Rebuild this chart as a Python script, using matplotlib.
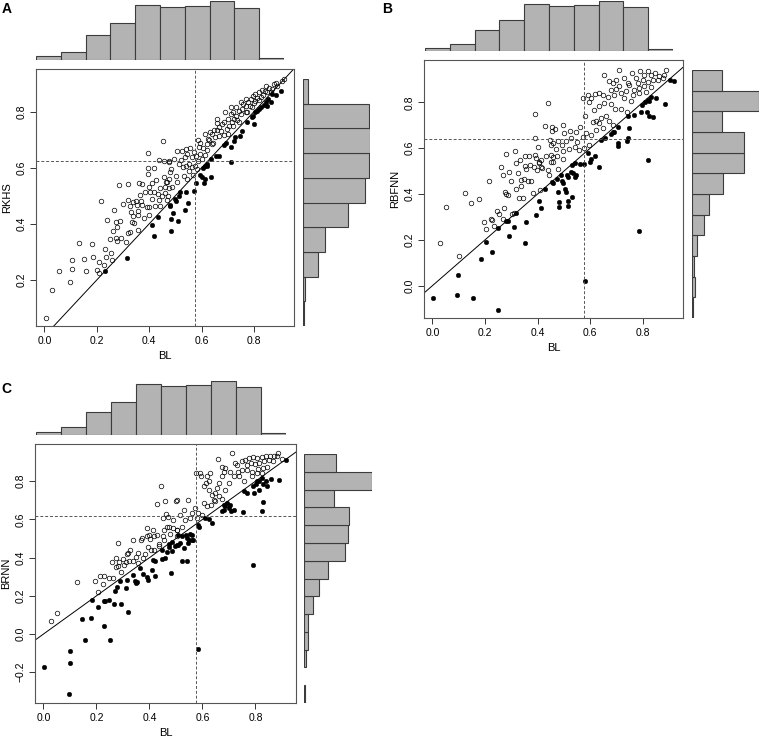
import numpy as np
import matplotlib
matplotlib.use("Agg")
import matplotlib.pyplot as plt

plt.rcParams['font.family'] = ['Liberation Sans', 'DejaVu Sans']

# --- data ---
# histogram of BL (shared by all panels), bins 0.0..1.0 step 0.1
bl_counts = [3, 7, 21, 31, 47, 45, 46, 50, 44, 2]
# histograms of the model predictions (bottom bin first)
rkhs_counts = [1, 2, 13, 19, 38, 53, 56, 57, 56, 4]            # bins 0.0..1.0
rbfnn_counts = [1, 3, 2, 5, 12, 17, 31, 52, 52, 30, 67, 30]    # bins -0.2..1.0
brnn_counts = [1, 0, 2, 4, 4, 8, 14, 22, 38, 41, 42, 28, 63, 30]  # bins -0.4..1.0

bl_mean = 0.575
rkhs_mean = 0.624
rbfnn_mean = 0.641
brnn_mean = 0.616

# RKHS vs BL: open = above diagonal, filled = below
rkhs_open = [
    (0.006, 0.065), (0.03, 0.165), (0.056, 0.231), (0.099, 0.194), (0.104, 0.239), (0.106, 0.27),
    (0.131, 0.332), (0.151, 0.274), (0.159, 0.232), (0.18, 0.327), (0.187, 0.281), (0.2, 0.235),
    (0.207, 0.265), (0.208, 0.224), (0.218, 0.482), (0.226, 0.253), (0.231, 0.31), (0.234, 0.283),
    (0.238, 0.413), (0.252, 0.346), (0.253, 0.297), (0.257, 0.27), (0.263, 0.376), (0.266, 0.45),
    (0.273, 0.406), (0.273, 0.349), (0.278, 0.389), (0.283, 0.539), (0.287, 0.41), (0.277, 0.34),
    (0.293, 0.349), (0.302, 0.471), (0.31, 0.334), (0.319, 0.543), (0.32, 0.366), (0.32, 0.486),
    (0.325, 0.464), (0.326, 0.372), (0.33, 0.442), (0.335, 0.406), (0.339, 0.428), (0.342, 0.404),
    (0.337, 0.479), (0.348, 0.482), (0.352, 0.466), (0.357, 0.433), (0.357, 0.446), (0.358, 0.379),
    (0.361, 0.545), (0.366, 0.504), (0.367, 0.482), (0.373, 0.542), (0.373, 0.466), (0.379, 0.422),
    (0.386, 0.515), (0.391, 0.46), (0.395, 0.579), (0.395, 0.652), (0.396, 0.598), (0.398, 0.53),
    (0.399, 0.459), (0.399, 0.431), (0.405, 0.513), (0.41, 0.547), (0.411, 0.489), (0.419, 0.6),
    (0.419, 0.515), (0.423, 0.465), (0.426, 0.558), (0.433, 0.508), (0.437, 0.485), (0.438, 0.629),
    (0.44, 0.465), (0.443, 0.528), (0.45, 0.5), (0.452, 0.694), (0.456, 0.625), (0.457, 0.568),
    (0.46, 0.533), (0.461, 0.51), (0.469, 0.486), (0.466, 0.548), (0.471, 0.5), (0.475, 0.622),
    (0.478, 0.584), (0.476, 0.528),
    (0.659, 0.774), (0.588, 0.699), (0.593, 0.688), (0.605, 0.67), (0.619, 0.685), (0.625, 0.703),
    (0.634, 0.727), (0.641, 0.72), (0.648, 0.735), (0.658, 0.735), (0.667, 0.744), (0.68, 0.756),
    (0.687, 0.762), (0.7, 0.774), (0.712, 0.792), (0.72, 0.798), (0.724, 0.774), (0.73, 0.786),
    (0.743, 0.804), (0.753, 0.81), (0.76, 0.827), (0.768, 0.819), (0.779, 0.834), (0.787, 0.845),
    (0.796, 0.855), (0.806, 0.863), (0.819, 0.869), (0.829, 0.878), (0.842, 0.875), (0.857, 0.883),
    (0.876, 0.899), (0.886, 0.902), (0.906, 0.91), (0.914, 0.917), (0.696, 0.738), (0.686, 0.717),
    (0.667, 0.714), (0.651, 0.709), (0.639, 0.685), (0.622, 0.663), (0.594, 0.649), (0.578, 0.641),
    (0.575, 0.607), (0.581, 0.596), (0.569, 0.575), (0.552, 0.59), (0.54, 0.667),
    (0.508, 0.661), (0.535, 0.637), (0.546, 0.649), (0.521, 0.629), (0.514, 0.614), (0.53, 0.602),
    (0.54, 0.607), (0.552, 0.614), (0.563, 0.602), (0.495, 0.631), (0.476, 0.625), (0.483, 0.596),
    (0.502, 0.572), (0.533, 0.572), (0.546, 0.56), (0.476, 0.56), (0.508, 0.548), (0.489, 0.53),
    (0.47, 0.548), (0.743, 0.762), (0.775, 0.798), (0.794, 0.816), (0.845, 0.893), (0.864, 0.87),
    (0.768, 0.845), (0.749, 0.834), (0.73, 0.816), (0.711, 0.816), (0.705, 0.75), (0.718, 0.762),
    (0.613, 0.72), (0.59, 0.673), (0.826, 0.851), (0.806, 0.839),
    (0.527, 0.66), (0.555, 0.672), (0.562, 0.64), (0.57, 0.655), (0.585, 0.625), (0.6, 0.63),
    (0.612, 0.645), (0.63, 0.7), (0.645, 0.69), (0.66, 0.76), (0.675, 0.73), (0.69, 0.8),
    (0.7, 0.72), (0.72, 0.75), (0.735, 0.77), (0.75, 0.79), (0.77, 0.8), (0.785, 0.82),
    (0.8, 0.83), (0.81, 0.85), (0.82, 0.84), (0.835, 0.86), (0.85, 0.87), (0.87, 0.88), (0.89, 0.89),
]
rkhs_fill = [
    (0.231, 0.231), (0.315, 0.28), (0.41, 0.397), (0.419, 0.358), (0.433, 0.426), (0.479, 0.467),
    (0.483, 0.416), (0.483, 0.375), (0.51, 0.409), (0.491, 0.439), (0.535, 0.448), (0.547, 0.475),
    (0.502, 0.483), (0.518, 0.515), (0.579, 0.546), (0.61, 0.545), (0.612, 0.56), (0.638, 0.566),
    (0.594, 0.574), (0.607, 0.599), (0.613, 0.607), (0.621, 0.607), (0.62, 0.615), (0.638, 0.631),
    (0.657, 0.641), (0.667, 0.643), (0.712, 0.621), (0.685, 0.68), (0.711, 0.673), (0.695, 0.688),
    (0.724, 0.697), (0.728, 0.709), (0.746, 0.714), (0.753, 0.73), (0.773, 0.764), (0.799, 0.756),
    (0.791, 0.78), (0.796, 0.786), (0.806, 0.798), (0.813, 0.804), (0.827, 0.816), (0.845, 0.834),
    (0.866, 0.834), (0.853, 0.845), (0.87, 0.862), (0.883, 0.86), (0.903, 0.874), (0.838, 0.824),
    (0.851, 0.821), (0.819, 0.81), (0.497, 0.49), (0.514, 0.5), (0.48, 0.465), (0.541, 0.515),
    (0.571, 0.516), (0.603, 0.568),
]

# RBFNN vs BL
rbfnn_open = [
    (0.027, 0.188), (0.052, 0.345), (0.1, 0.128), (0.125, 0.404), (0.147, 0.361), (0.179, 0.378),
    (0.198, 0.276), (0.202, 0.249), (0.214, 0.459), (0.221, 0.293), (0.225, 0.286), (0.233, 0.262),
    (0.246, 0.328), (0.255, 0.313), (0.26, 0.52), (0.267, 0.289), (0.269, 0.485), (0.274, 0.338),
    (0.275, 0.411), (0.279, 0.576), (0.28, 0.4), (0.286, 0.397), (0.292, 0.498), (0.297, 0.458),
    (0.303, 0.312), (0.312, 0.319), (0.314, 0.586), (0.316, 0.535), (0.319, 0.424), (0.324, 0.491),
    (0.328, 0.382), (0.332, 0.549), (0.336, 0.433), (0.337, 0.462), (0.345, 0.383), (0.349, 0.465),
    (0.354, 0.564), (0.354, 0.523), (0.357, 0.511), (0.365, 0.459), (0.368, 0.564), (0.373, 0.528),
    (0.376, 0.456), (0.381, 0.404), (0.388, 0.518), (0.39, 0.571), (0.392, 0.646), (0.392, 0.748),
    (0.393, 0.558), (0.398, 0.504), (0.403, 0.605), (0.406, 0.535), (0.41, 0.417), (0.412, 0.547),
    (0.413, 0.52), (0.418, 0.513), (0.43, 0.697), (0.433, 0.564), (0.44, 0.799), (0.449, 0.637),
    (0.451, 0.615), (0.455, 0.691), (0.441, 0.506), (0.451, 0.542), (0.457, 0.561), (0.445, 0.484),
    (0.404, 0.539),
    (0.654, 0.921), (0.708, 0.943), (0.67, 0.892), (0.686, 0.885), (0.679, 0.856), (0.698, 0.859),
    (0.711, 0.87), (0.717, 0.841), (0.692, 0.834), (0.667, 0.824), (0.648, 0.834), (0.632, 0.841),
    (0.62, 0.838), (0.603, 0.819), (0.59, 0.834), (0.574, 0.819), (0.597, 0.8), (0.635, 0.786),
    (0.582, 0.742), (0.615, 0.765), (0.654, 0.797), (0.679, 0.794), (0.695, 0.771), (0.717, 0.771),
    (0.739, 0.756), (0.66, 0.742), (0.641, 0.732), (0.61, 0.716), (0.622, 0.717), (0.635, 0.71),
    (0.67, 0.717), (0.686, 0.703), (0.648, 0.688), (0.622, 0.681), (0.584, 0.666), (0.603, 0.659),
    (0.571, 0.651), (0.562, 0.692), (0.546, 0.669), (0.524, 0.673), (0.502, 0.666), (0.496, 0.703),
    (0.468, 0.684), (0.455, 0.673), (0.527, 0.644), (0.508, 0.63), (0.493, 0.615), (0.477, 0.63),
    (0.457, 0.623), (0.549, 0.625), (0.544, 0.605), (0.521, 0.596), (0.496, 0.59), (0.47, 0.596),
    (0.451, 0.571), (0.473, 0.564), (0.496, 0.553), (0.46, 0.538), (0.477, 0.509), (0.559, 0.593),
    (0.578, 0.601), (0.597, 0.615), (0.759, 0.929), (0.775, 0.907), (0.79, 0.936), (0.806, 0.921),
    (0.819, 0.936), (0.832, 0.921), (0.848, 0.929), (0.863, 0.917), (0.876, 0.907), (0.889, 0.94),
    (0.781, 0.885), (0.8, 0.896), (0.819, 0.887), (0.838, 0.899), (0.857, 0.896), (0.749, 0.877),
    (0.768, 0.856), (0.787, 0.863), (0.806, 0.87), (0.832, 0.867), (0.736, 0.848), (0.762, 0.834),
    (0.784, 0.841), (0.813, 0.844), (0.73, 0.907), (0.743, 0.885), (0.73, 0.819), (0.755, 0.804),
    (0.882, 0.921), (0.698, 0.899),
]
rbfnn_fill = [
    (0.003, -0.054), (0.094, -0.041), (0.153, -0.052), (0.251, -0.105), (0.099, 0.048), (0.183, 0.115),
    (0.202, 0.191), (0.227, 0.149), (0.25, 0.251), (0.281, 0.282), (0.289, 0.282), (0.293, 0.217),
    (0.312, 0.258), (0.319, 0.318), (0.355, 0.276), (0.354, 0.185), (0.393, 0.308), (0.407, 0.37),
    (0.413, 0.338), (0.428, 0.421), (0.454, 0.452), (0.46, 0.448), (0.478, 0.411), (0.48, 0.367),
    (0.48, 0.345), (0.496, 0.448), (0.503, 0.421), (0.53, 0.386), (0.489, 0.482), (0.511, 0.484),
    (0.516, 0.474), (0.544, 0.474), (0.531, 0.526), (0.543, 0.535), (0.562, 0.531), (0.575, 0.532),
    (0.592, 0.579), (0.6, 0.542), (0.605, 0.555), (0.619, 0.564), (0.632, 0.519), (0.64, 0.637),
    (0.655, 0.643), (0.679, 0.66), (0.686, 0.669), (0.692, 0.672), (0.706, 0.691), (0.705, 0.623),
    (0.707, 0.611), (0.74, 0.631), (0.745, 0.644), (0.746, 0.688), (0.745, 0.739), (0.765, 0.746),
    (0.797, 0.79), (0.794, 0.756), (0.815, 0.756), (0.825, 0.742), (0.838, 0.736), (0.81, 0.8),
    (0.82, 0.81), (0.822, 0.804), (0.832, 0.822), (0.851, 0.819), (0.885, 0.793), (0.905, 0.897),
    (0.92, 0.894), (0.821, 0.549), (0.787, 0.239), (0.582, 0.022), (0.475, 0.467), (0.494, 0.455),
    (0.508, 0.407), (0.515, 0.37), (0.516, 0.348), (0.534, 0.491), (0.546, 0.481), (0.526, 0.498),
]

# BRNN vs BL
brnn_open = [
    (0.028, 0.07), (0.052, 0.11), (0.128, 0.27), (0.195, 0.277), (0.204, 0.22), (0.214, 0.305),
    (0.223, 0.263), (0.23, 0.305), (0.247, 0.293), (0.26, 0.375), (0.262, 0.293), (0.272, 0.398),
    (0.275, 0.351), (0.28, 0.358), (0.285, 0.375), (0.291, 0.325), (0.281, 0.476), (0.3, 0.394),
    (0.304, 0.363), (0.31, 0.375), (0.315, 0.42), (0.32, 0.424), (0.323, 0.38), (0.325, 0.441),
    (0.338, 0.494), (0.338, 0.38), (0.351, 0.406), (0.357, 0.424), (0.357, 0.372), (0.367, 0.494),
    (0.372, 0.503), (0.377, 0.398), (0.382, 0.419), (0.389, 0.511), (0.391, 0.555), (0.395, 0.455),
    (0.399, 0.52), (0.401, 0.497), (0.406, 0.441), (0.412, 0.546), (0.416, 0.441), (0.416, 0.511),
    (0.427, 0.52), (0.43, 0.682), (0.437, 0.473), (0.437, 0.462), (0.442, 0.776), (0.452, 0.607),
    (0.458, 0.698), (0.456, 0.546), (0.462, 0.63), (0.465, 0.563), (0.471, 0.613), (0.475, 0.56),
    (0.477, 0.525), (0.487, 0.595), (0.49, 0.555), (0.5, 0.698), (0.503, 0.546), (0.505, 0.511),
    (0.454, 0.494), (0.45, 0.511),
    (0.544, 0.7), (0.503, 0.7), (0.532, 0.651), (0.515, 0.625), (0.534, 0.598), (0.553, 0.607),
    (0.56, 0.634), (0.572, 0.66), (0.585, 0.634), (0.598, 0.625), (0.579, 0.607), (0.522, 0.563),
    (0.503, 0.546), (0.575, 0.843), (0.591, 0.843), (0.595, 0.829), (0.617, 0.825), (0.629, 0.843),
    (0.623, 0.799), (0.613, 0.791), (0.604, 0.773), (0.623, 0.755), (0.636, 0.729), (0.648, 0.738),
    (0.655, 0.764), (0.661, 0.791), (0.673, 0.825), (0.68, 0.851), (0.686, 0.869), (0.673, 0.877),
    (0.658, 0.916), (0.711, 0.948), (0.721, 0.895), (0.705, 0.851), (0.718, 0.825), (0.699, 0.791),
    (0.686, 0.755), (0.661, 0.724), (0.673, 0.707), (0.648, 0.694), (0.633, 0.677), (0.642, 0.703),
    (0.617, 0.668), (0.604, 0.686), (0.749, 0.904), (0.762, 0.913), (0.774, 0.921), (0.79, 0.927),
    (0.806, 0.921), (0.823, 0.927), (0.838, 0.93), (0.853, 0.93), (0.869, 0.934), (0.886, 0.948),
    (0.899, 0.916), (0.768, 0.886), (0.785, 0.895), (0.8, 0.892), (0.815, 0.898), (0.831, 0.904),
    (0.85, 0.909), (0.866, 0.904), (0.749, 0.86), (0.768, 0.857), (0.787, 0.851), (0.81, 0.864),
    (0.828, 0.869), (0.844, 0.877), (0.737, 0.825), (0.755, 0.799), (0.73, 0.886), (0.734, 0.851),
    (0.806, 0.843), (0.787, 0.825), (0.823, 0.843), (0.882, 0.93),
]
brnn_fill = [
    (0.003, -0.171), (0.095, -0.314), (0.1, -0.149), (0.1, -0.091), (0.146, 0.08), (0.155, -0.03),
    (0.18, 0.085), (0.182, 0.178), (0.204, 0.139), (0.227, 0.043), (0.227, 0.173), (0.234, 0.174),
    (0.249, 0.176), (0.252, -0.033), (0.27, 0.223), (0.268, 0.155), (0.277, 0.246), (0.289, 0.279),
    (0.292, 0.159), (0.313, 0.239), (0.32, 0.113), (0.314, 0.284), (0.336, 0.31), (0.346, 0.279),
    (0.349, 0.267), (0.353, 0.272), (0.363, 0.346), (0.375, 0.312), (0.391, 0.298), (0.394, 0.281),
    (0.408, 0.337), (0.414, 0.389), (0.421, 0.302), (0.419, 0.385), (0.448, 0.393), (0.458, 0.398),
    (0.446, 0.438), (0.467, 0.432), (0.475, 0.455), (0.482, 0.322), (0.486, 0.436), (0.496, 0.459),
    (0.505, 0.466), (0.472, 0.473), (0.484, 0.483),
    (0.541, 0.384), (0.506, 0.467), (0.515, 0.476), (0.532, 0.453), (0.544, 0.476), (0.549, 0.494),
    (0.56, 0.494), (0.537, 0.52), (0.522, 0.511), (0.509, 0.52), (0.553, 0.525), (0.562, 0.52),
    (0.582, 0.572), (0.587, 0.56), (0.636, 0.581), (0.61, 0.607), (0.623, 0.602), (0.673, 0.642),
    (0.683, 0.651), (0.699, 0.66), (0.709, 0.642), (0.718, 0.651), (0.686, 0.668), (0.68, 0.677),
    (0.692, 0.686), (0.705, 0.677), (0.753, 0.637), (0.755, 0.747), (0.768, 0.741), (0.796, 0.738),
    (0.79, 0.773), (0.803, 0.785), (0.812, 0.799), (0.823, 0.817), (0.828, 0.787), (0.838, 0.799),
    (0.857, 0.812), (0.888, 0.804), (0.828, 0.693), (0.824, 0.644), (0.79, 0.361), (0.812, 0.755),
    (0.914, 0.913), (0.806, 0.80), (0.844, 0.773), (0.585, -0.079), (0.543, 0.504), (0.563, 0.492),
    (0.523, 0.38),
]

W, H = 760, 741
HIST_COLOR = '#b3b3b3'
EDGE_COLOR = '#3c3c3c'
XLIM = (-0.032, 0.953)


def px_rect(l, t, r, b):
    return [l / W, 1 - b / H, (r - l) / W, (b - t) / H]


def draw_panel(sc_box, top_box, right_box, right_max, open_pts, fill_pts,
               ylim, yticks, ylabel, ymean, right_counts, letter, letter_xy):
    ax = fig.add_axes(px_rect(*sc_box))
    op = np.array(open_pts)
    fp = np.array(fill_pts)
    ax.plot(op[:, 0], op[:, 1], 'o', mfc='none', mec='black', ms=3.3, mew=0.5)
    ax.plot(fp[:, 0], fp[:, 1], 'o', color='black', ms=3.3, mew=0.3)
    ax.axline((0, 0), slope=1, color='black', lw=0.7)
    ax.axvline(bl_mean, color='#555555', lw=0.7, ls=(0, (3, 2)))
    ax.axhline(ymean, color='#555555', lw=0.7, ls=(0, (3, 2)))
    ax.set_xlim(*XLIM)
    ax.set_ylim(*ylim)
    ax.set_xticks([0, 0.2, 0.4, 0.6, 0.8])
    ax.set_xticklabels(['0.0', '0.2', '0.4', '0.6', '0.8'])
    ax.set_yticks(yticks)
    ax.set_yticklabels([f'{v:.1f}'.replace('-', '\u2212') for v in yticks])
    ax.tick_params(length=4, width=0.7, labelsize=7.5, pad=3, color='#333333')
    for lab in ax.get_yticklabels():
        lab.set_rotation(90)
        lab.set_va('center')
    for sp in ax.spines.values():
        sp.set_color('#555555')
        sp.set_linewidth(0.8)
    ax.set_xlabel('BL', fontsize=8, labelpad=4)
    ax.set_ylabel(ylabel, fontsize=8, labelpad=3)

    # top histogram of BL
    axt = fig.add_axes(px_rect(*top_box))
    axt.bar(np.arange(len(bl_counts)), bl_counts, width=1, align='edge',
            color=HIST_COLOR, edgecolor=EDGE_COLOR, linewidth=0.8)
    axt.set_xlim(0, len(bl_counts))
    axt.set_ylim(0, max(bl_counts))
    axt.axis('off')

    # right histogram of the model
    axr = fig.add_axes(px_rect(*right_box))
    rc = np.array(right_counts)
    pos = np.arange(len(rc))
    keep = rc > 0
    axr.barh(pos[keep], rc[keep], height=1, align='edge',
             color=HIST_COLOR, edgecolor=EDGE_COLOR, linewidth=0.8)
    axr.set_ylim(0, len(rc))
    axr.set_xlim(0, right_max)
    axr.axis('off')

    fig.text(letter_xy[0] / W, 1 - letter_xy[1] / H, letter, fontsize=10,
             fontweight='bold', ha='left', va='top')


fig = plt.figure(figsize=(W / 100, H / 100), dpi=100)

draw_panel((36, 69, 294, 326), (36, 1, 284, 60), (303, 79, 370, 326), 57,
           rkhs_open, rkhs_fill, (0.036, 0.952), [0.2, 0.4, 0.6, 0.8], 'RKHS',
           rkhs_mean, rkhs_counts, 'A', (2, 2))
draw_panel((424, 60, 683, 318), (425, 1.3, 673, 51.3), (692, 70, 759, 318), 67,
           rbfnn_open, rbfnn_fill, (-0.141, 0.985), [0.0, 0.2, 0.4, 0.6, 0.8], 'RBFNN',
           rbfnn_mean, rbfnn_counts, 'B', (382, 2))
draw_panel((35, 444, 296, 703), (36, 381, 286, 435), (304, 454, 372, 703), 63,
           brnn_open, brnn_fill, (-0.361, 0.995), [-0.2, 0.0, 0.2, 0.4, 0.6, 0.8], 'BRNN',
           brnn_mean, brnn_counts, 'C', (1, 382))

fig.savefig('out.png', dpi=100)
